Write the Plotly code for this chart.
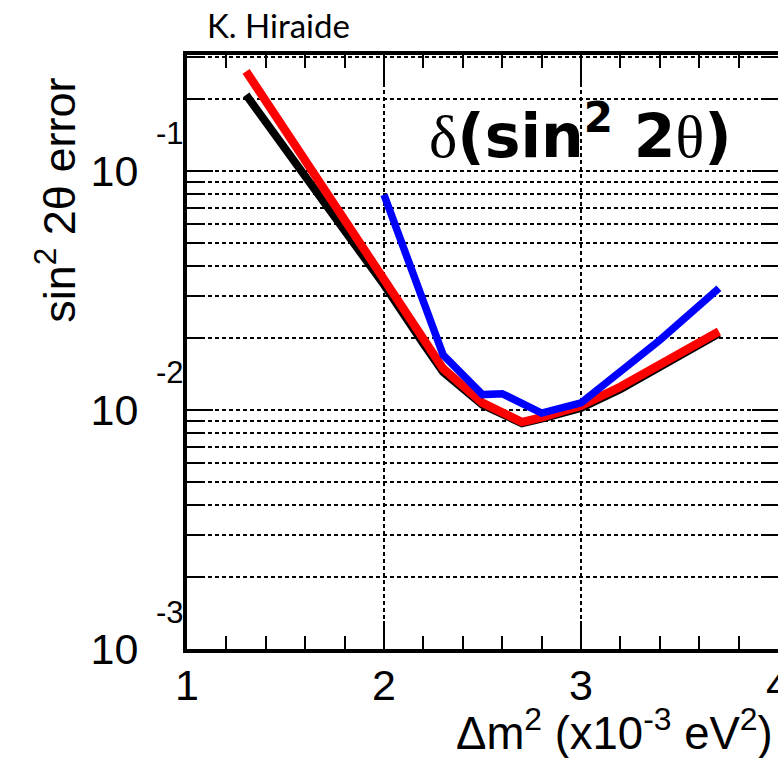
import plotly.graph_objects as go
import math

# ---------------- data ----------------
dm2_bk = [1.3, 2.0, 2.2, 2.3, 2.5, 2.7, 2.8, 3.0, 3.2, 3.5, 3.7]
err_black = [0.208, 0.0334, 0.0189, 0.0144, 0.0105, 0.0088, 0.0092, 0.0102, 0.0122, 0.0167, 0.0209]
err_red = [0.261, 0.0353, 0.0200, 0.0149, 0.0107, 0.0089, 0.0093, 0.0104, 0.0125, 0.0170, 0.0213]

dm2_blue = [2.0, 2.1, 2.2, 2.3, 2.5, 2.6, 2.8, 3.0, 3.4, 3.7]
err_blue = [0.0795, 0.0482, 0.0288, 0.0170, 0.0116, 0.0117, 0.0097, 0.0107, 0.0196, 0.0323]

x_ticks = [1, 2, 3, 4]
x_ticktext = ["1", "2", "3", "4"]
y_ticks = [1e-3, 1e-2, 1e-1]
y_ticktext = ["10", "10", "10"]
y_exponents = ["-3", "-2", "-1"]
y_minor = [m * 10.0 ** e for e in (-3, -2, -1) for m in range(2, 10) if m * 10.0 ** e < 0.31]

# ---------------- figure ----------------
fig = go.Figure()
fig.add_trace(go.Scatter(x=dm2_bk, y=err_black, mode="lines",
                         line=dict(color="black", width=8), showlegend=False))
fig.add_trace(go.Scatter(x=dm2_bk, y=err_red, mode="lines",
                         line=dict(color="#ff0000", width=8.5), showlegend=False))
fig.add_trace(go.Scatter(x=dm2_blue, y=err_blue, mode="lines",
                         line=dict(color="#0000ff", width=7.5), showlegend=False))

sans = "Liberation Sans, Arial, sans-serif"
tick_font = dict(family=sans, size=43, color="black")
grid_dash = "4px,3px"

fig.update_layout(
    template="none",
    width=778, height=758,
    margin=dict(l=187, r=0, t=55, b=109, autoexpand=False),
    paper_bgcolor="white", plot_bgcolor="white",
    showlegend=False,
    xaxis=dict(
        range=[1, 4], tickvals=x_ticks, ticktext=x_ticktext,
        ticks="inside", ticklen=28, tickwidth=1.5, tickcolor="black",
        showline=True, linewidth=4, linecolor="black", mirror="ticks",
        showgrid=True, gridcolor="black", gridwidth=1.6, griddash=grid_dash,
        zeroline=False, tickfont=tick_font, ticklabelstandoff=-5,
        ticklabeloverflow="allow",
        automargin=False,
        minor=dict(dtick=0.2, ticks="inside", ticklen=13, tickwidth=1.5,
                   tickcolor="black", showgrid=False),
    ),
    yaxis=dict(
        type="log", range=[-3, -0.515], tickvals=y_ticks, ticktext=y_ticktext,
        ticks="inside", ticklen=26, tickwidth=1.5, tickcolor="black",
        showline=True, linewidth=4, linecolor="black", mirror="ticks",
        showgrid=True, gridcolor="black", gridwidth=1.6, griddash=grid_dash,
        zeroline=False, tickfont=tick_font, ticklabelstandoff=36,
        ticklabeloverflow="allow",
        automargin=False,
        minor=dict(tickvals=y_minor, ticks="inside", ticklen=16, tickwidth=1.5,
                   tickcolor="black", showgrid=True, gridcolor="black",
                   gridwidth=1.6, griddash=grid_dash),
    ),
)

# exponents of the y tick labels (ROOT style)
for v, e in zip(y_ticks, y_exponents):
    fig.add_annotation(x=-0.002, xref="paper", y=math.log10(v), yref="y",
                       text=e, showarrow=False, xanchor="right", yanchor="middle",
                       yshift=37,
                       font=dict(family=sans, size=31, color="black"))

# axis titles
fig.add_annotation(x=-0.222, xref="paper", y=0.756, yref="paper",
                   text="sin<sup>2</sup> 2θ error", textangle=-90, showarrow=False,
                   xanchor="center", yanchor="middle",
                   font=dict(family=sans, size=45, color="black"))
fig.add_annotation(x=0.995, xref="paper", y=-0.136, yref="paper",
                   text="Δm<sup>2</sup> (x10<sup>-3</sup> eV<sup>2</sup>)", showarrow=False,
                   xanchor="right", yanchor="middle",
                   font=dict(family=sans, size=45.5, color="black"))

# author
fig.add_annotation(x=0.0305, xref="paper", y=1.0505, yref="paper",
                   text="K. Hiraide", showarrow=False, xanchor="left", yanchor="middle",
                   font=dict(family="Lato, sans-serif", size=33, color="black"))

# in-plot label
serif = "font-family:'Liberation Serif', 'DejaVu Serif', serif;font-weight:normal"
fig.add_annotation(x=0.665, xref="paper", y=0.870, yref="paper",
                   text=(f"<span style=\"{serif}\">δ</span><b>(sin<sup>2</sup> 2</b>"
                         f"<span style=\"{serif}\">θ</span><b>)</b>"),
                   showarrow=False, xanchor="center", yanchor="middle",
                   font=dict(family="DejaVu Sans, sans-serif", size=60, color="black"))

# remove the browser's default 8px body margin so the figure fills the window
fig.write_html("out.html",
               config={"displayModeBar": False},
               post_script="document.body.style.margin='0';document.body.style.overflow='hidden';")
